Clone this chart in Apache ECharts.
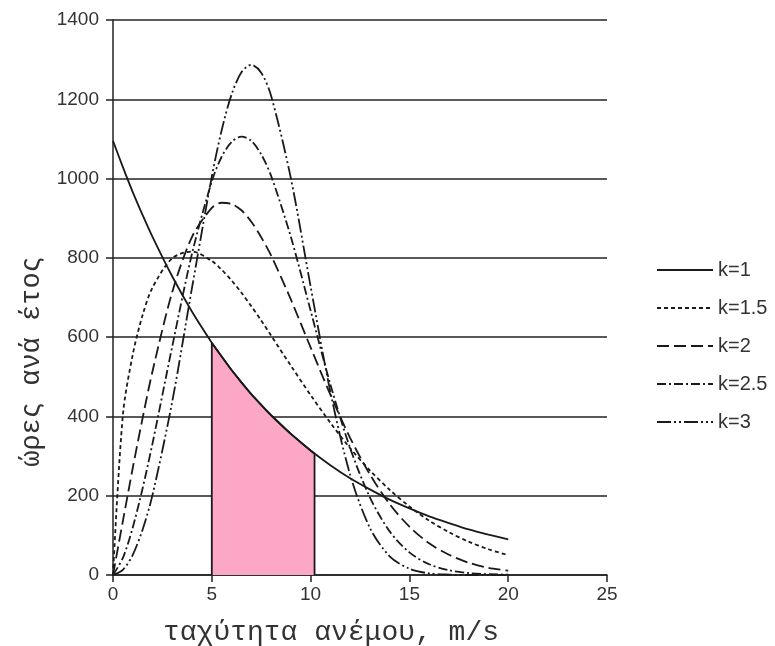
<!DOCTYPE html>
<html>
<head>
<meta charset="utf-8">
<script src="https://cdn.jsdelivr.net/npm/echarts@6/dist/echarts.min.js"></script>
<style>
  html, body { margin: 0; padding: 0; background: #fff; }
  #chart { width: 775px; height: 646px; }
</style>
</head>
<body>
<div id="chart"></div>
<script>
// ταχύτητα ανέμου (m/s)
var speeds = [0, 0.5, 1, 1.5, 2, 3, 4, 5, 5.5, 6, 6.5, 7, 7.5, 8, 9, 10, 11, 12, 13, 14, 15, 16, 17, 18, 19, 20];

// ώρες ανά έτος για κάθε k
var hoursK1   = [1095, 1029, 966, 908, 853, 753, 664, 586, 551, 517, 486, 456, 429, 403, 356, 314, 277, 244, 216, 190, 168, 148, 131, 115, 102, 90];
var hoursK15  = [0, 404, 556, 656, 725, 799, 816, 792, 770, 743, 712, 678, 642, 604, 528, 454, 384, 320, 264, 215, 173, 137, 108, 84, 65, 50];
var hoursK2   = [0, 136, 270, 396, 514, 714, 853, 926, 939, 936, 920, 891, 852, 806, 695, 574, 455, 346, 254, 179, 122, 80, 51, 31, 18, 11];
var hoursK25  = [0, 43, 120, 219, 332, 577, 811, 993, 1055, 1092, 1106, 1095, 1061, 1007, 853, 667, 481, 320, 196, 110, 57, 27, 12, 5, 2, 1];
var hoursK3   = [0, 13, 51, 115, 202, 438, 725, 1005, 1122, 1212, 1268, 1287, 1267, 1209, 1001, 728, 462, 253, 119, 47, 16, 4, 1, 0, 0, 0];

// σκιασμένη περιοχή 5 - 10.2 m/s κάτω από k=1
var shadeSpeeds = [5, 5.5, 6, 6.5, 7, 7.5, 8, 9, 10, 10.2];
var shadeHours  = [586, 551, 517, 486, 456, 429, 403, 356, 314, 306];

var legendNames = ['k=1', 'k=1.5', 'k=2', 'k=2.5', 'k=3'];

function pairs(xs, ys) {
  return xs.map(function (x, i) { return [x, ys[i]]; });
}

var chart = echarts.init(document.getElementById('chart'));

// πολύγωνο για τη ροζ περιοχή (κλειστό στο μηδέν)
var shadeData = [[shadeSpeeds[0], 0]]
  .concat(pairs(shadeSpeeds, shadeHours))
  .concat([[shadeSpeeds[shadeSpeeds.length - 1], 0]]);

function curve(name, data, dash) {
  return {
    name: name,
    type: 'line',
    data: pairs(speeds, data),
    smooth: 0.3,
    showSymbol: false,
    symbol: 'none',
    z: 5,
    lineStyle: { color: '#1a1a1a', width: 1.8, type: dash },
    itemStyle: { color: '#1a1a1a' }
  };
}

var option = {
  animation: false,
  backgroundColor: '#fff',
  grid: { left: 113, top: 20, right: 168, bottom: 71, outerBoundsMode: 'none' },
  legend: {
    orient: 'vertical',
    left: 651,
    top: 255,
    itemWidth: 56,
    itemHeight: 18,
    itemGap: 18,
    data: legendNames,
    itemStyle: { opacity: 0 },
    textStyle: { fontFamily: 'Liberation Sans', fontSize: 20, color: '#333' }
  },
  xAxis: {
    type: 'value',
    min: 0,
    max: 25,
    interval: 5,
    name: 'ταχύτητα ανέμου, m/s',
    nameLocation: 'middle',
    nameGap: 44,
    nameTextStyle: { fontFamily: 'Liberation Mono', fontSize: 28, color: '#333', padding: [0, 58, 0, 0] },
    axisLine: { lineStyle: { color: '#222', width: 1.5 } },
    axisTick: { show: true, length: 7, lineStyle: { color: '#222', width: 1.5 } },
    axisLabel: { fontFamily: 'Liberation Sans', fontSize: 19, color: '#333', margin: 10 },
    splitLine: { show: false }
  },
  yAxis: {
    type: 'value',
    min: 0,
    max: 1400,
    interval: 200,
    name: 'ώρες ανά έτος',
    nameLocation: 'middle',
    nameGap: 60,
    nameRotate: 90,
    nameTextStyle: { fontFamily: 'Liberation Mono', fontSize: 27, color: '#333', padding: [0, 128, 0, 0] },
    axisLine: { show: true, lineStyle: { color: '#222', width: 1.5 } },
    axisTick: { show: true, length: 7, lineStyle: { color: '#222', width: 1.5 } },
    axisLabel: {
      fontFamily: 'Liberation Sans', fontSize: 19, color: '#333', margin: 14,
      formatter: function (v) { return String(v); }
    },
    splitLine: { show: true, lineStyle: { color: '#222', width: 1.5 } }
  },
  series: [
    {
      name: 'shade',
      type: 'line',
      data: shadeData,
      smooth: false,
      showSymbol: false,
      symbol: 'none',
      z: 2,
      lineStyle: { color: '#1a1a1a', width: 1.8 },
      areaStyle: { color: '#fda7c6', opacity: 1, origin: 'start' }
    },
    curve('k=1', hoursK1, 'solid'),
    curve('k=1.5', hoursK15, [4, 3]),
    curve('k=2', hoursK2, [12, 5]),
    curve('k=2.5', hoursK25, [9, 3, 2, 3]),
    curve('k=3', hoursK3, [14, 3, 2, 3, 2, 3])
  ]
};

chart.setOption(option);
</script>
</body>
</html>
